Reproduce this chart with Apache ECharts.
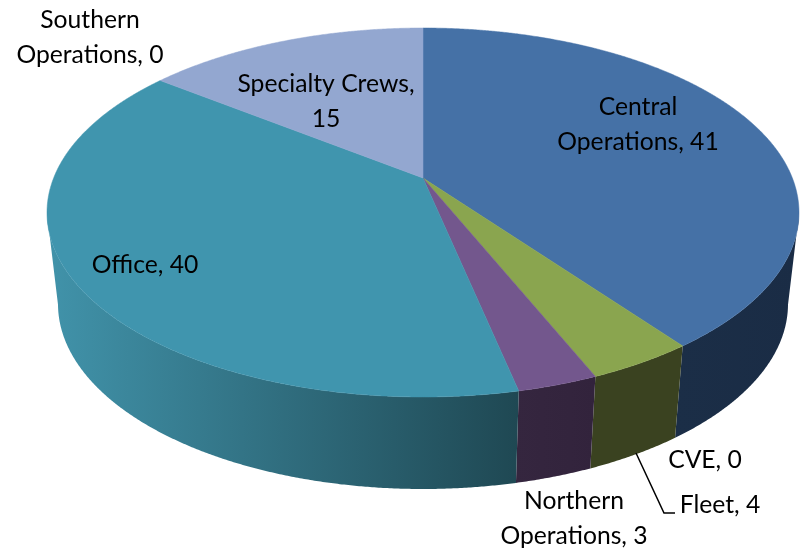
<!DOCTYPE html>
<html><head><meta charset="utf-8">
<style>html,body{margin:0;padding:0;background:#fff}#c{width:804px;height:552px}</style>
<script src="https://cdn.jsdelivr.net/npm/echarts@6/dist/echarts.min.js"></script>
</head><body><div id="c"></div>
<script>
// Data, clockwise from 12 o'clock
const categories = ['Central Operations','CVE','Fleet','Northern Operations','Office','Specialty Crews','Southern Operations'];
const values = [41,0,4,3,40,15,0];
// Styles
const topColors = ['#4571a6','#8aa54f','#8aa54f','#73578d','#4095ae','#93a7d0','#93a7d0'];
const wallStops = [['#1b2e47','#1a2c45'],['#3a4220','#3a4220'],['#3a4220','#3a4220'],['#35263f','#32233c'],['#4193aa','#1f4853'],['#000','#000'],['#000','#000']];
// Label layout: pixel centre of the first line, line breaks as drawn in the picture
const labelLines = [['Central','Operations, 41'],['CVE, 0'],['Fleet, 4'],['Northern','Operations, 3'],['Office, 40'],['Specialty Crews,','15'],['Southern','Operations, 0']];
const labelAt = [[638,107],[705,460],[720,505],[574,501],[145,265],[326,84],[90,20]];
const LINE_H = 35;
const leader = [[636,453],[664,513],[675,513]];
// Projection of the pie disc
const topE = {cx:423, cy:212.5, rx:376, ry:184.5};
const botE = {cx:423, cy:304, rx:365, ry:185};
const d = (212.5-178)/184.5, k = Math.sqrt(1-d*d);
const total = values.reduce((a,b)=>a+b,0);
function disc(t){ // t: clockwise turn angle from top, returns perspective disc coords (y up)
  const x=Math.sin(t), y=Math.cos(t), w=1+d*y;
  return [x*k/w,(y+d)/w];
}
const onE=(E,p)=>[E.cx+E.rx*p[0],E.cy-E.ry*p[1]];
function angles(i){
  let s=0; for(let j=0;j<i;j++) s+=values[j];
  return [s/total*2*Math.PI,(s+values[i])/total*2*Math.PI];
}
function samples(a,b){
  const n=Math.max(2,Math.ceil((b-a)/0.005)), r=[];
  for(let i=0;i<=n;i++) r.push(disc(a+(b-a)*i/n));
  return r;
}
const base={type:'custom',coordinateSystem:'none',silent:true,animation:false,
  data:values.map((v,i)=>({name:categories[i],value:[v,i]}))};
function wallItem(params,api){
  const i=api.value(1);
  if(api.value(0)===0) return {type:'group',children:[]};
  const [a,b]=angles(i);
  const front=samples(a,b).filter(p=>p[1]<=0);
  if(front.length<2) return {type:'group',children:[]};
  const pts=front.map(p=>onE(topE,p)).concat(front.slice().reverse().map(p=>onE(botE,p)));
  return {type:'polygon',shape:{points:pts},style:{
    fill:new echarts.graphic.LinearGradient(0,0,1,0,[
      {offset:0,color:wallStops[i][0]},{offset:1,color:wallStops[i][1]}])}};
}
function topItem(params,api){
  const i=api.value(1);
  if(api.value(0)===0) return {type:'group',children:[]};
  const [a,b]=angles(i);
  const pts=[onE(topE,[0,d])].concat(samples(a,b).map(p=>onE(topE,p)));
  return {type:'polygon',shape:{points:pts},style:{fill:topColors[i],stroke:topColors[i],lineWidth:0.5}};
}
function labelItem(params,api){
  const i=api.value(1), [x,y]=labelAt[i];
  return {type:'group',children:labelLines[i].map((t,j)=>({type:'text',style:{
    text:t,x:x,y:y+j*LINE_H,align:'center',verticalAlign:'middle',
    fontFamily:'Lato',fontSize:24.7,fill:'#000'}}))};
}
const chart=echarts.init(document.getElementById('c'),null,{renderer:'canvas'});
chart.setOption({
  animation:false,backgroundColor:'#fff',
  series:[
    Object.assign({},base,{name:'walls',z:1,renderItem:wallItem}),
    Object.assign({},base,{name:'tops',z:2,renderItem:topItem}),
    Object.assign({},base,{name:'labels',z:3,renderItem:labelItem})
  ],
  graphic:[{type:'polyline',z:4,silent:true,shape:{points:leader},style:{stroke:'#000',lineWidth:1.5,fill:null}}]
});
</script></body></html>
